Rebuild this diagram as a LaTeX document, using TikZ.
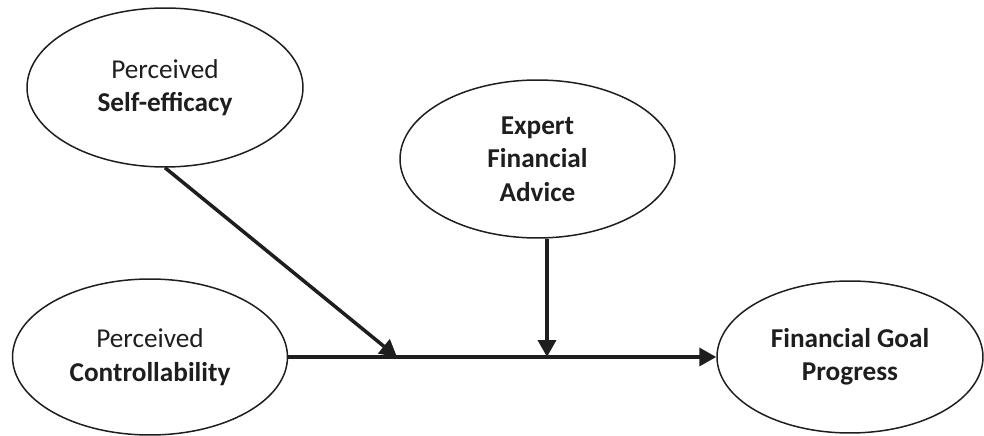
\documentclass[tikz,border=0pt]{standalone}
\usepackage{fontspec}
\setmainfont{Carlito}
\usetikzlibrary{positioning, arrows.meta, shapes.geometric, calc}
\definecolor{inkgray}{RGB}{30, 30, 30}

\begin{document}
\begin{tikzpicture}[x=0.02cm, y=0.02cm,
    construct/.style={draw=inkgray, ellipse, line width=0.85pt, inner sep=0pt,
        minimum width=5.5cm, minimum height=3.16cm, align=center,
        text=inkgray, font=\fontsize{15.5}{19}\selectfont},
    path/.style={draw=inkgray, line width=2pt, -{Triangle[length=0.34cm, width=0.36cm]}}]
    \useasboundingbox (0,0) rectangle (984,436);
    % constructs
    \node[construct, minimum width=5.52cm, minimum height=3.18cm] (self) at (165,348.5) {Perceived\\\textbf{Self-efficacy}};
    \node[construct] (expert) at (537.5,277) {\textbf{Expert}\\\textbf{Financial}\\\textbf{Advice}};
    \node[construct, minimum height=3.12cm] (control) at (150,79) {Perceived\\\textbf{Controllability}};
    \node[construct, minimum width=5.32cm, minimum height=3.04cm] (goal) at (850,79) {\textbf{Financial Goal}\\\textbf{Progress}};
    % moderator landing points on the main path
    \coordinate (selftip) at (397,79);
    \coordinate (experttip) at (547,79);
    % paths
    \draw[path] (control.east) -- (goal.west);
    \draw[path] (self.south) -- (selftip);
    \draw[path] (expert.south -| experttip) -- (experttip);
\end{tikzpicture}
\end{document}
